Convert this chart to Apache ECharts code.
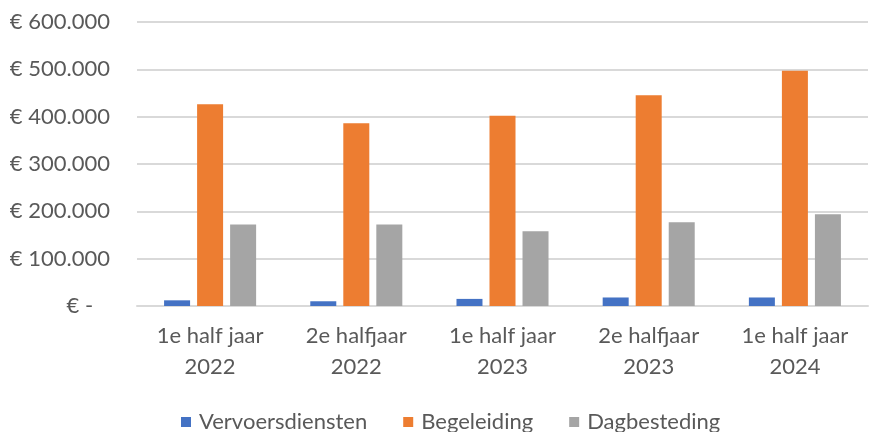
<!DOCTYPE html>
<html>
<head>
<meta charset="utf-8">
<script src="https://cdn.jsdelivr.net/npm/echarts@6/dist/echarts.min.js"></script>
<style>
  html, body { margin: 0; padding: 0; background: #fff; }
  #chart { width: 869px; height: 432px; }
</style>
</head>
<body>
<div id="chart"></div>
<script>
const categories = ['1e half jaar\n2022', '2e halfjaar\n2022', '1e half jaar\n2023', '2e halfjaar\n2023', '1e half jaar\n2024'];
const vervoersdiensten = [12000, 10000, 15000, 18000, 18000];
const begeleiding = [426000, 386000, 402000, 445000, 497000];
const dagbesteding = [172000, 172000, 158000, 177000, 194000];

const fontFamily = 'Lato, "Open Sans", sans-serif';
const textColor = '#595959';

const myChart = echarts.init(document.getElementById('chart'));
myChart.setOption({
  animation: false,
  textStyle: { fontFamily: fontFamily, color: textColor },
  grid: {
    left: 137,
    right: 1,
    top: 22,
    bottom: 126,
    containLabel: false
  },
  legend: {
    top: 406,
    left: 176,
    itemWidth: 10,
    itemHeight: 10,
    itemGap: 36,
    icon: 'rect',
    textStyle: { fontSize: 22, color: textColor, fontFamily: fontFamily, padding: [0, 0, 0, 3] }
  },
  xAxis: {
    type: 'category',
    data: categories,
    axisTick: { show: false },
    axisLine: { lineStyle: { color: '#d9d9d9', width: 2 } },
    axisLabel: {
      fontSize: 22,
      color: textColor,
      lineHeight: 31,
      margin: 14
    }
  },
  yAxis: {
    type: 'value',
    min: 0,
    max: 600000,
    interval: 100000,
    axisLine: { show: false },
    axisTick: { show: false },
    splitLine: { lineStyle: { color: '#d9d9d9', width: 2 } },
    axisLabel: {
      fontSize: 22,
      color: textColor,
      margin: 27,
      formatter: (v) => v === 0 ? '€ -   ' : '€ ' + v.toLocaleString('nl-NL')
    }
  },
  series: [
    {
      name: 'Vervoersdiensten',
      type: 'bar',
      data: vervoersdiensten,
      barWidth: 26,
      barGap: '27%',
      itemStyle: { color: '#4472c4' }
    },
    {
      name: 'Begeleiding',
      type: 'bar',
      data: begeleiding,
      barWidth: 26,
      barGap: '27%',
      itemStyle: { color: '#ed7d31' }
    },
    {
      name: 'Dagbesteding',
      type: 'bar',
      data: dagbesteding,
      barWidth: 26,
      barGap: '27%',
      itemStyle: { color: '#a5a5a5' }
    }
  ]
});
</script>
</body>
</html>
